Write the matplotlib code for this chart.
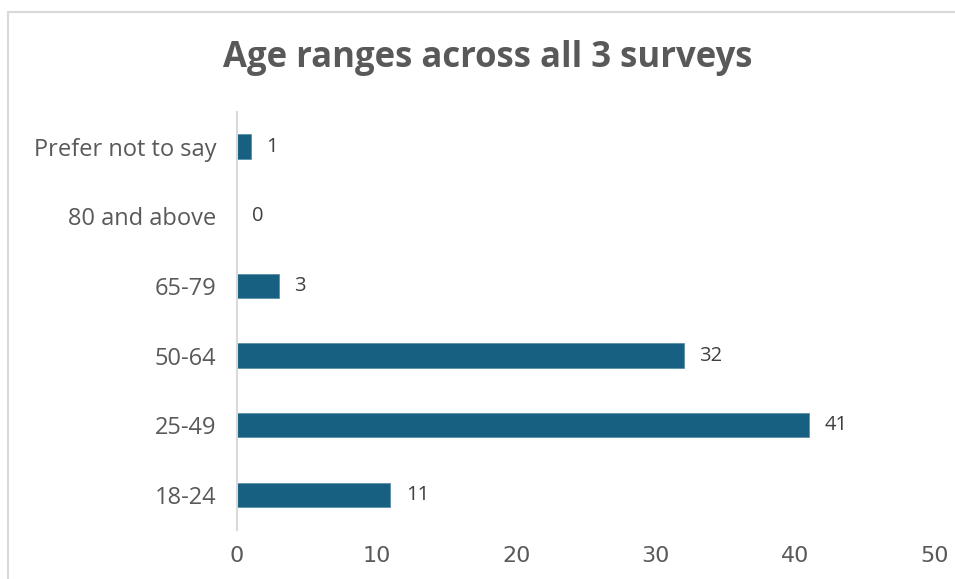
import matplotlib.pyplot as plt
from matplotlib.patches import Rectangle

# data
categories = ['18-24', '25-49', '50-64', '65-79', '80 and above', 'Prefer not to say']
counts = [11, 41, 32, 3, 0, 1]
xticks = [0, 10, 20, 30, 40, 50]

barColor = '#176082'
textColor = '#595959'

fig = plt.figure(figsize=(9.55, 5.79), dpi=100)
ax = fig.add_axes([0.248, 0.085, 0.731, 0.722])

# chart frame (cut off at right/bottom like the reference)
fig.patches.append(Rectangle((8 / 955, -0.1), 1.2, 1.1 - 12 / 579, transform=fig.transFigure,
                             fill=False, edgecolor='#d9d9d9', linewidth=1.5))

ypos = range(len(categories))
ax.barh(ypos, counts, height=0.35, color=barColor, edgecolor='#5a8fa8', linewidth=0.6)

for y, v in zip(ypos, counts):
    ax.text(v + 1.1, y, str(v), va='center', ha='left', fontsize=14.5,
            color='#404040', family='Open Sans')

ax.set_xlim(0, 50)
ax.set_ylim(-0.5, 5.5)
ax.set_yticks(list(ypos))
ax.set_yticklabels(categories, fontsize=17, color=textColor, family='Open Sans')
ax.set_xticks(xticks)
ax.set_xticklabels([str(t) for t in xticks], fontsize=16, color=textColor,
                   family=['Liberation Sans Narrow', 'DejaVu Sans'])
ax.tick_params(axis='both', length=0)
ax.tick_params(axis='y', pad=15)
ax.tick_params(axis='x', pad=12)

for s in ['top', 'right', 'bottom']:
    ax.spines[s].set_visible(False)
ax.spines['left'].set_color('#d9d9d9')
ax.spines['left'].set_linewidth(1.5)

fig.text(0.511, 0.90, 'Age ranges across all 3 surveys', ha='center', va='center',
         fontsize=25, fontweight='bold', color=textColor, family='Open Sans')

fig.savefig('out.png', dpi=100, facecolor='white')
